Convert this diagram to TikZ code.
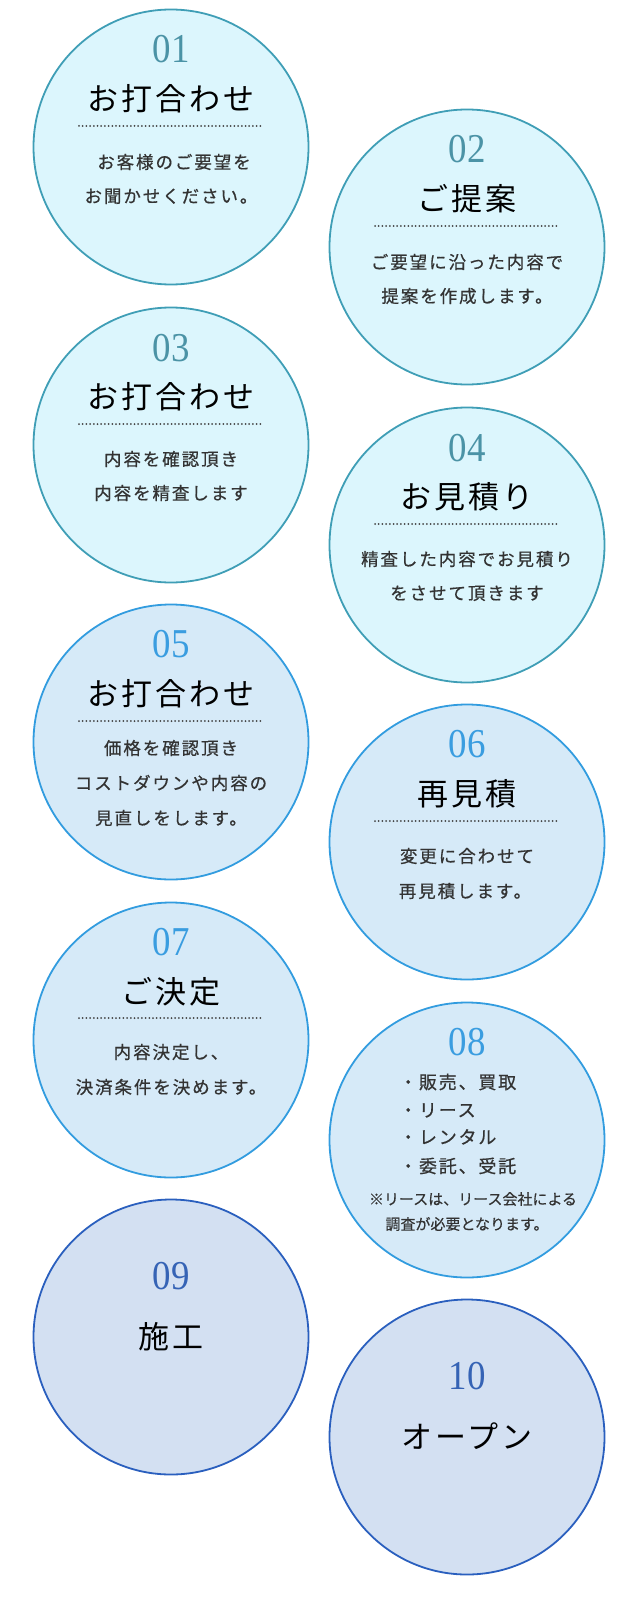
\documentclass[tikz,border=0pt]{standalone}
\usepackage{fontspec}
\setmainfont{Liberation Serif}
\newfontfamily\numf{Liberation Serif}
\newfontfamily\jpH[LetterSpace=9]{Noto Sans CJK JP}
\newfontfamily\jpB[LetterSpace=11,FakeBold=0.6]{Noto Sans CJK JP}
\newfontfamily\jpL[LetterSpace=10,FakeBold=0.6]{Noto Sans CJK JP}
\newfontfamily\jpN[FakeBold=0.5]{Noto Sans CJK JP}
\usetikzlibrary{calc}
\definecolor{fillA}{HTML}{DCF6FD}
\definecolor{lineA}{HTML}{3F9EB6}
\definecolor{numA}{HTML}{4B93A6}
\definecolor{fillB}{HTML}{D6EAF8}
\definecolor{lineB}{HTML}{329CDF}
\definecolor{numB}{HTML}{3A9DE0}
\definecolor{fillC}{HTML}{D3E0F2}
\definecolor{lineC}{HTML}{2A5FBE}
\definecolor{numC}{HTML}{3563B5}
\definecolor{bodyc}{HTML}{333333}
\definecolor{dotc}{HTML}{444444}
\begin{document}
\begin{tikzpicture}[x=1pt,y=-1pt,
  bub/.style={circle,minimum size=275pt,inner sep=0pt,line width=1.8pt},
  bubA/.style={bub,fill=fillA,draw=lineA},
  bubB/.style={bub,fill=fillB,draw=lineB},
  bubC/.style={bub,fill=fillC,draw=lineC},
  num/.style={inner sep=0pt,font=\numf\fontsize{41}{41}\selectfont,text height=28pt,text depth=0pt},
  head/.style={inner sep=0pt,font=\jpH\fontsize{31}{31}\selectfont,text height=27.3pt,text depth=3.7pt,text=black},
  body/.style={inner sep=0pt,font=\jpB\fontsize{17.5}{17.5}\selectfont,text height=15.4pt,text depth=2.1pt,text=bodyc},
  bull/.style={inner sep=0pt,anchor=west,font=\jpL\fontsize{18}{18}\selectfont,text height=15.8pt,text depth=2.2pt,text=bodyc},
  note/.style={inner sep=0pt,font=\jpN\fontsize{15}{15}\selectfont,text height=13.2pt,text depth=1.8pt,text=bodyc},
  dotline/.style={draw=dotc,line width=2pt,line cap=round,dash pattern=on 0pt off 3.7pt}
]
\useasboundingbox (0,0) rectangle (640,1605);

% ---- 01
\node[bubA] (c1) at (171,147) {};
\node[num,text=numA] (n1) at ($(c1)+(0,-98)$) {\scalebox{0.9}[1]{01}};
\node[head] (h1) at ($(c1)+(0,-48)$) {お打合わせ};
\coordinate (d1a) at ($(c1)+(-92,-21)$);
\coordinate (d1b) at ($(c1)+(92,-21)$);
\draw[dotline] (d1a) -- (d1b);
\node[body] (b1a) at ($(c1)+(3,15)$) {お客様のご要望を};
\node[body] (b1b) at ($(c1)+(0,49)$) {お聞かせください。};

% ---- 02
\node[bubA] (c2) at (467,247) {};
\node[num,text=numA] (n2) at ($(c2)+(0,-98)$) {\scalebox{0.9}[1]{02}};
\node[head] (h2) at ($(c2)+(0,-48)$) {ご提案};
\coordinate (d2a) at ($(c2)+(-92,-21)$);
\coordinate (d2b) at ($(c2)+(92,-21)$);
\draw[dotline] (d2a) -- (d2b);
\node[body] (b2a) at ($(c2)+(0,15)$) {ご要望に沿った内容で};
\node[body] (b2b) at ($(c2)+(0,49)$) {提案を作成します。};

% ---- 03
\node[bubA] (c3) at (171,445) {};
\node[num,text=numA] (n3) at ($(c3)+(0,-98)$) {\scalebox{0.9}[1]{03}};
\node[head] (h3) at ($(c3)+(0,-48)$) {お打合わせ};
\coordinate (d3a) at ($(c3)+(-92,-21)$);
\coordinate (d3b) at ($(c3)+(92,-21)$);
\draw[dotline] (d3a) -- (d3b);
\node[body] (b3a) at ($(c3)+(0,14)$) {内容を確認頂き};
\node[body] (b3b) at ($(c3)+(0,48)$) {内容を精査します};

% ---- 04
\node[bubA] (c4) at (467,545) {};
\node[num,text=numA] (n4) at ($(c4)+(0,-98)$) {\scalebox{0.9}[1]{04}};
\node[head] (h4) at ($(c4)+(0,-48)$) {お見積り};
\coordinate (d4a) at ($(c4)+(-92,-21)$);
\coordinate (d4b) at ($(c4)+(92,-21)$);
\draw[dotline] (d4a) -- (d4b);
\node[body] (b4a) at ($(c4)+(0,14)$) {精査した内容でお見積り};
\node[body] (b4b) at ($(c4)+(0,48)$) {をさせて頂きます};

% ---- 05
\node[bubB] (c5) at (171,742) {};
\node[num,text=numB] (n5) at ($(c5)+(0,-99)$) {\scalebox{0.9}[1]{05}};
\node[head] (h5) at ($(c5)+(0,-48)$) {お打合わせ};
\coordinate (d5a) at ($(c5)+(-92,-21)$);
\coordinate (d5b) at ($(c5)+(92,-21)$);
\draw[dotline] (d5a) -- (d5b);
\node[body] (b5a) at ($(c5)+(0,6)$) {価格を確認頂き};
\node[body] (b5b) at ($(c5)+(0,41)$) {コストダウンや内容の};
\node[body] (b5c) at ($(c5)+(0,76)$) {見直しをします。};

% ---- 06
\node[bubB] (c6) at (467,842) {};
\node[num,text=numB] (n6) at ($(c6)+(0,-99)$) {\scalebox{0.9}[1]{06}};
\node[head] (h6) at ($(c6)+(0,-48)$) {再見積};
\coordinate (d6a) at ($(c6)+(-92,-21)$);
\coordinate (d6b) at ($(c6)+(92,-21)$);
\draw[dotline] (d6a) -- (d6b);
\node[body] (b6a) at ($(c6)+(0,14)$) {変更に合わせて};
\node[body] (b6b) at ($(c6)+(-2,49)$) {再見積します。};

% ---- 07
\node[bubB] (c7) at (171,1040) {};
\node[num,text=numB] (n7) at ($(c7)+(0,-99)$) {\scalebox{0.9}[1]{07}};
\node[head] (h7) at ($(c7)+(0,-48)$) {ご決定};
\coordinate (d7a) at ($(c7)+(-92,-22)$);
\coordinate (d7b) at ($(c7)+(92,-22)$);
\draw[dotline] (d7a) -- (d7b);
\node[body] (b7a) at ($(c7)+(0,12)$) {内容決定し、};
\node[body] (b7b) at ($(c7)+(0,47)$) {決済条件を決めます。};

% ---- 08
\node[bubB] (c8) at (467,1140) {};
\node[num,text=numB] (n8) at ($(c8)+(0,-99)$) {\scalebox{0.9}[1]{08}};
\node[bull] (l8a) at ($(c8)+(-68,-58)$) {・販売、買取};
\node[bull] (l8b) at ($(c8)+(-68,-30)$) {・リース};
\node[bull] (l8c) at ($(c8)+(-68,-3)$) {・レンタル};
\node[bull] (l8d) at ($(c8)+(-68,26)$) {・委託、受託};
\node[note] (t8a) at ($(c8)+(6,59)$) {※リースは、リース会社による};
\node[note] (t8b) at ($(c8)+(0,84)$) {調査が必要となります。};

% ---- 09
\node[bubC] (c9) at (171,1337) {};
\node[num,text=numC] (n9) at ($(c9)+(0,-62)$) {\scalebox{0.9}[1]{09}};
\node[head] (h9) at ($(c9)+(0,0)$) {施工};

% ---- 10
\node[bubC] (c10) at (467,1437) {};
\node[num,text=numC] (n10) at ($(c10)+(0,-62)$) {\scalebox{0.9}[1]{10}};
\node[head] (h10) at ($(c10)+(0,0)$) {オープン};
\end{tikzpicture}
\end{document}
